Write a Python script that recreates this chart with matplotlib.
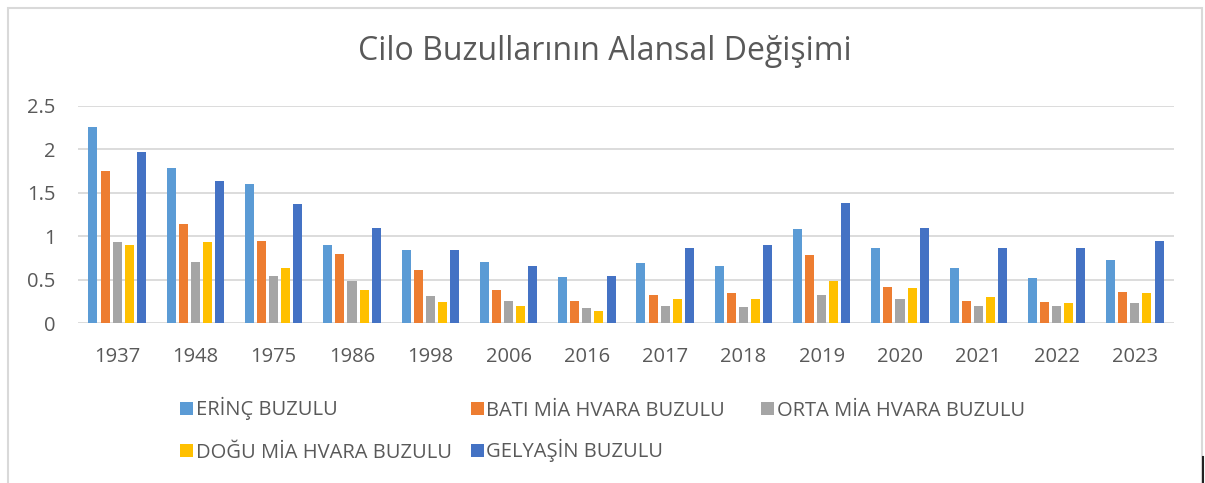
import numpy as np
import matplotlib.pyplot as plt
from matplotlib.patches import Rectangle
from matplotlib.lines import Line2D

# ---- data ----
years = ["1937", "1948", "1975", "1986", "1998", "2006", "2016",
         "2017", "2018", "2019", "2020", "2021", "2022", "2023"]

erinc    = [2.26, 1.78, 1.60, 0.90, 0.84, 0.71, 0.53, 0.69, 0.66, 1.08, 0.86, 0.63, 0.52, 0.73]
bati     = [1.75, 1.14, 0.94, 0.80, 0.61, 0.38, 0.26, 0.32, 0.35, 0.79, 0.42, 0.26, 0.25, 0.36]
orta     = [0.93, 0.71, 0.54, 0.49, 0.31, 0.26, 0.18, 0.20, 0.19, 0.33, 0.28, 0.20, 0.20, 0.23]
dogu     = [0.90, 0.93, 0.64, 0.38, 0.25, 0.20, 0.14, 0.28, 0.28, 0.49, 0.41, 0.30, 0.23, 0.35]
gelyasin = [1.97, 1.64, 1.37, 1.10, 0.84, 0.66, 0.54, 0.86, 0.90, 1.38, 1.10, 0.86, 0.86, 0.95]

series_names = ["ERİNÇ BUZULU", "BATI MİA HVARA BUZULU", "ORTA MİA HVARA BUZULU",
                "DOĞU MİA HVARA BUZULU", "GELYAŞİN BUZULU"]
series_vals = [erinc, bati, orta, dogu, gelyasin]
colors = ["#5B9BD5", "#ED7D31", "#A5A5A5", "#FFC000", "#4472C4"]

plt.rcParams['font.family'] = ['Open Sans', 'DejaVu Sans']
TXT = "#595959"
GRID = "#D9D9D9"

W, H, DPI = 1205, 483, 100
fig = plt.figure(figsize=(W / DPI, H / DPI), dpi=DPI)
fig.patch.set_facecolor("white")

ax = fig.add_axes([78 / W, 1 - 323.3 / H, (1174 - 78) / W, (323.3 - 105.7) / H])

x = np.arange(len(years))
slot, bw = 0.155, 0.115
for i, (vals, c) in enumerate(zip(series_vals, colors)):
    ax.bar(x + (i - 2) * slot, vals, width=bw, color=c, zorder=3)

ax.set_xlim(-0.5, len(years) - 0.5)
ax.set_ylim(0, 2.5)
ax.set_yticks([0, 0.5, 1, 1.5, 2, 2.5])
ax.set_yticklabels(["0", "0.5", "1", "1.5", "2", "2.5"])
ax.set_xticks(x)
ax.set_xticklabels(years)
ax.grid(axis="y", color=GRID, linewidth=1.3, zorder=0)
for sp in ax.spines.values():
    sp.set_visible(False)
ax.tick_params(length=0, colors=TXT, labelsize=14.5)
ax.tick_params(axis="y", pad=16)
ax.tick_params(axis="x", pad=17)

fig.text(605 / W, 1 - 52 / H, "Cilo Buzullarının Alansal Değişimi",
         ha="center", va="center", fontsize=23, color=TXT)

# legend: Excel style, equal-width columns, filled row by row
col_x = [180, 470.5, 761]
row_y = [408, 450]
for k, (name, c) in enumerate(zip(series_names, colors)):
    r, col = divmod(k, 3)
    px, py = col_x[col], row_y[r]
    fig.patches.append(Rectangle((px / W, 1 - (py + 6.5) / H), 13 / W, 13 / H,
                                 transform=fig.transFigure, facecolor=c,
                                 edgecolor="none"))
    fig.text((px + 16) / W, 1 - (py + 7.5) / H, name, ha="left", va="baseline",
             fontsize=14.5, color=TXT)

# outer chart border
fig.patches.append(Rectangle((8 / W, -0.05), (1202 - 8) / W, 1.05 - 8 / H,
                             transform=fig.transFigure, fill=False,
                             edgecolor=GRID, linewidth=1.5))
# small dark mark at the bottom right corner of the screenshot
fig.lines.append(Line2D([1203 / W, 1203 / W], [0, 1 - 457 / H],
                        transform=fig.transFigure, color="#222222", linewidth=1.5))

fig.savefig("out.png", dpi=DPI)
